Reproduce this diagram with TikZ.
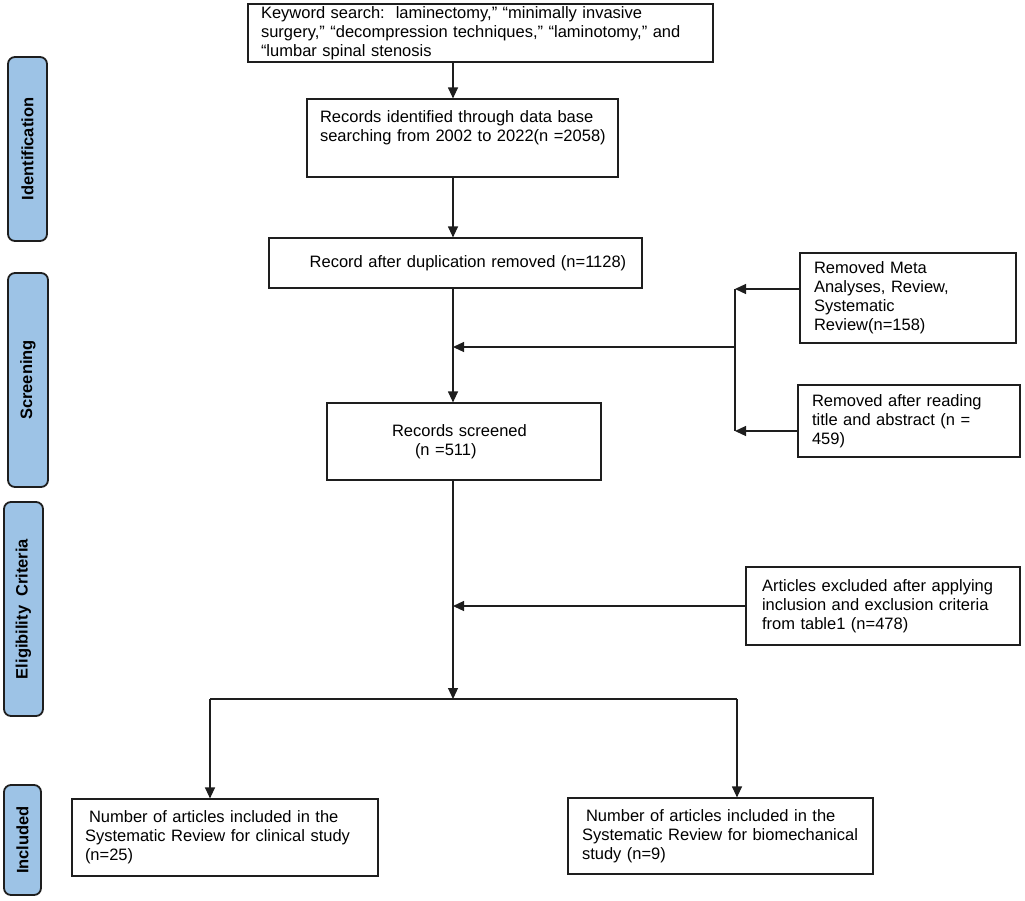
\documentclass[tikz,border=0pt]{standalone}
\usepackage{fontspec}
\setmainfont{Liberation Sans}
\usetikzlibrary{arrows.meta}
\definecolor{phase}{RGB}{157,195,230}
\definecolor{edge}{RGB}{30,30,30}
\tikzset{
  box/.style={draw=edge, line width=1.2pt, fill=white, inner ysep=0pt, align=left,
    font=\fontsize{16.5}{19}\selectfont},
  phasebox/.style={draw=edge, line width=1.8pt, fill=phase, rounded corners=7pt, rotate=90,
    inner sep=0pt, font=\bfseries\fontsize{16.5}{19}\selectfont},
  conn/.style={line width=1.2pt, draw=edge},
  arr/.style={conn, -{Triangle[length=11pt,width=10pt]}},
}
\begin{document}
\begin{tikzpicture}[x=1pt,y=-1pt]
\useasboundingbox (0,0) rectangle (1025,900);

% phase labels
\node[phasebox, minimum width=184pt, minimum height=39pt] (pid) at (27.5,149) {Identification};
\node[phasebox, minimum width=214pt, minimum height=40pt] (psc) at (28,380) {Screening};
\node[phasebox, minimum width=214pt, minimum height=39pt] (pel) at (23.5,609) {Eligibility~ Criteria};
\node[phasebox, minimum width=110pt, minimum height=37pt] (pin) at (22.5,840) {Included};

% main boxes
\node[box, text width=439pt, inner xsep=13pt, minimum height=58pt] (kw) at (480.5,33)
  {\mbox{Keyword search:\ \ laminectomy,” “minimally invasive}\\\mbox{surgery,” “decompression techniques,” “laminotomy,” and}\\“lumbar spinal stenosis};
\node[box, text width=285pt, inner xsep=13pt, minimum height=78pt] (rec) at (462.5,138)
  {\mbox{Records identified through data base}\\\mbox{searching from 2002 to 2022(n =2058)}\\\strut};
\node[box, text width=373pt, inner xsep=0pt, minimum height=50pt, align=center] (dup) at (455.5,263)
  {\hspace*{25pt}Record after duplication removed (n=1128)};
\node[box, text width=274pt, inner xsep=0pt, minimum height=77pt] (scr) at (464,441.5)
  {\hspace*{65pt}Records screened\\\hspace*{88pt}(n =511)};

% exclusion boxes
\node[box, text width=188pt, inner xsep=14pt, minimum height=90pt] (meta) at (908,298)
  {Removed Meta\\Analyses, Review,\\Systematic\\Review(n=158)};
\node[box, text width=194pt, inner xsep=14pt, minimum height=72pt] (read) at (909,421)
  {Removed after reading\\title and abstract (n =\\459)};
\node[box, text width=242pt, inner xsep=16pt, minimum height=78pt] (art) at (883,606)
  {\mbox{Articles excluded after applying}\\\mbox{inclusion and exclusion criteria}\\from table1 (n=478)};

% included boxes
\node[box, text width=280pt, inner xsep=13pt, minimum height=77pt] (inl) at (225,837.5)
  {\mbox{\hspace*{4pt}Number of articles included in the}\\\mbox{Systematic Review for clinical study}\\(n=25)};
\node[box, text width=281pt, inner xsep=12pt, minimum height=76pt] (inr) at (720.5,836)
  {\mbox{\hspace*{6pt}Number of articles included in the}\\\mbox{\hspace*{2pt}Systematic Review for biomechanical}\\\hspace*{2pt}study (n=9)};

% connectors
\coordinate (ax) at (453,0);
\draw[arr] (kw.south -| ax) -- (rec.north -| ax);
\draw[arr] (rec.south -| ax) -- (dup.north -| ax);
\draw[arr] (dup.south -| ax) -- (scr.north -| ax);

\coordinate (bt) at (735,289);
\coordinate (bb) at (735,431);
\coordinate (bm) at (735,347);
\draw[arr] (meta.west |- bt) -- (bt);
\draw[arr] (read.west |- bb) -- (bb);
\draw[conn] (bt) -- (bb);
\draw[arr] (bm) -- (bm -| ax);

\draw[arr] (art.west) -- (art.west -| ax);

\coordinate (sp) at (453,699);
\coordinate (sl) at (210,699);
\coordinate (sr) at (737,699);
\draw[arr] (scr.south -| ax) -- (sp);
\draw[conn] (sl) -- (sr);
\draw[arr] (sl) -- (sl |- inl.north);
\draw[arr] (sr) -- (sr |- inr.north);
\end{tikzpicture}
\end{document}
